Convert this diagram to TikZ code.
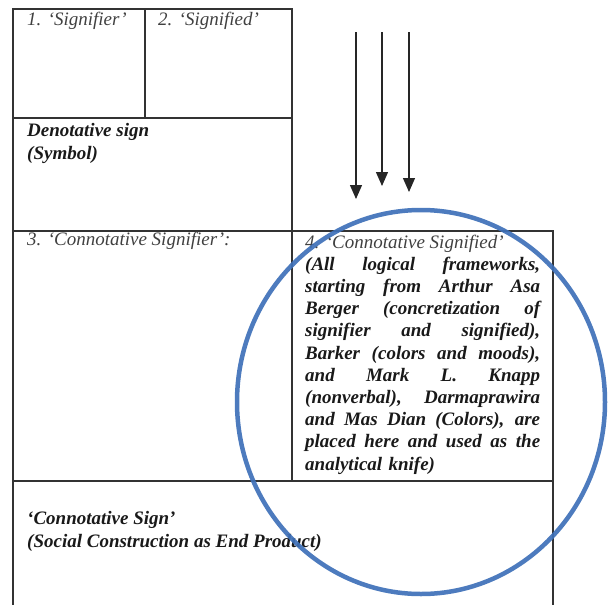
\documentclass[tikz,border=0pt]{standalone}
\usepackage{fontspec}
\setmainfont{Liberation Serif}
\usepackage{tikz}
\usetikzlibrary{shapes}
\usetikzlibrary{arrows.meta}
\definecolor{ringblue}{RGB}{62,112,184}
\newcommand{\CellFont}{\fontsize{19}{22.2}\selectfont}
\newcommand{\JLine}[1]{\makebox[235pt][s]{\spaceskip=.25em plus 1fil\relax #1}}
\tikzstyle{cell}=[draw=black!80,line width=1.2pt,rectangle,anchor=north west,inner sep=0pt,outer sep=0pt]
\tikzstyle{lbl}=[anchor=base west,inner sep=0pt,font=\CellFont\itshape,text=black!75]
\tikzstyle{bold}=[anchor=base west,inner sep=0pt,font=\CellFont\bfseries\itshape,text=black!90,align=left]

\begin{document}
\begin{tikzpicture}
	[x=1pt,y=-1pt]
	\tikzstyle{arrow}=[-{Triangle[length=14pt,width=12pt]},line width=1.3pt,draw=black!85];
	\useasboundingbox (0,0) rectangle (610,605);
	
	% cells
	\node (1) [cell,minimum width=132pt,minimum height=109pt] at (13,9) {};
	\node (2) [cell,minimum width=147pt,minimum height=109pt] at (145,9) {};
	\node (d) [cell,minimum width=279pt,minimum height=113pt] at (13,118) {};
	\node (3) [cell,minimum width=279pt,minimum height=250pt] at (13,231) {};
	\node (4) [cell,minimum width=261pt,minimum height=250pt] at (292,231) {};
	\coordinate (5a) at (13,605);
	\coordinate (5b) at (553,605);
	\draw[draw=black!80,line width=1.2pt] (3.south west) -- (5a) (4.south east) -- (5b);
	
	% texts (multi-line nodes sit on their last line, the boxed one on its first)
	\node (t1) [lbl] at (27,25) {1. `Signifier'};
	\node (t2) [lbl] at (158,25) {2. `Signified'};
	\node (td) [bold] at (27,159) {Denotative sign\\(Symbol)};
	\node (t3) [lbl] at (27,245) {3. `Connotative Signifier':};
	\node (t4) [lbl] at (305,248) {4. `Connotative Signified'};
	\node (t4b) [bold,text width=235pt] at (305,270.2) {\JLine{(All logical frameworks,}\\
		\JLine{starting from Arthur Asa}\\
		\JLine{Berger (concretization of}\\
		\JLine{signifier and signified),}\\
		\JLine{Barker (colors and moods),}\\
		\JLine{and Mark L. Knapp}\\
		\JLine{(nonverbal), Darmaprawira}\\
		\JLine{and Mas Dian (Colors), are}\\
		\JLine{placed here and used as the}\\
		analytical knife)};
	\node (t5) [bold] at (27,547) {`Connotative Sign'\\(Social Construction as End Product)};
	
	% arrows
	\coordinate (a1) at (356,32);
	\coordinate (a2) at (382,32);
	\coordinate (a3) at (409,32);
	\coordinate (b1) at (356,199);
	\coordinate (b2) at (382,186);
	\coordinate (b3) at (409,192);
	\draw[arrow] (a1) -- (b1);
	\draw[arrow] (a2) -- (b2);
	\draw[arrow] (a3) -- (b3);
	
	% ring
	\node (ring) [draw=ringblue,line width=4.5pt,ellipse,minimum width=368pt,minimum height=384pt,inner sep=0pt,opacity=0.92] at (421,402) {};
\end{tikzpicture}
\end{document}
